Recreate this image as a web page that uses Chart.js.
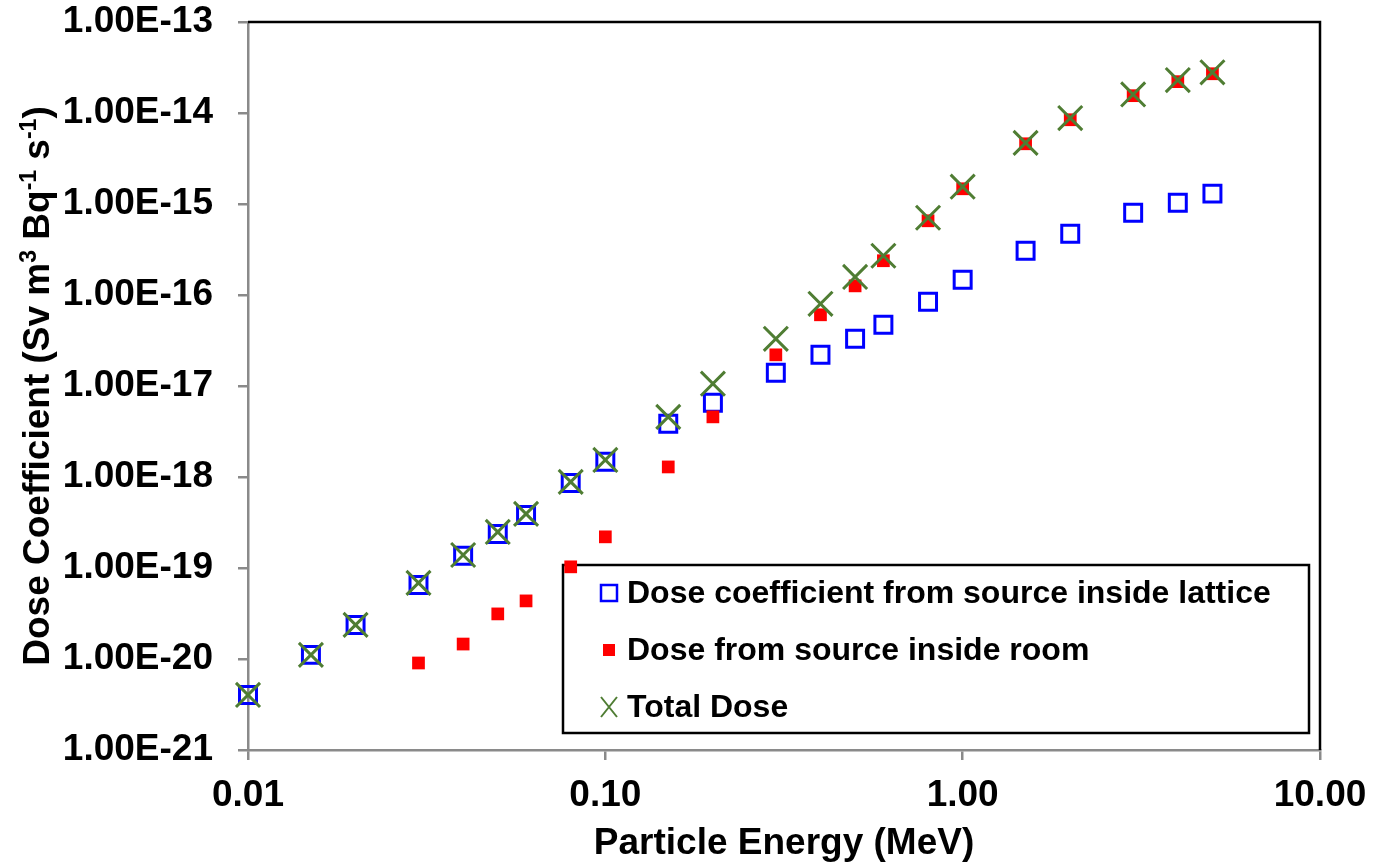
<!DOCTYPE html>
<html lang="en">
  <head>
    <meta charset="utf-8" />
    <title>Dose Coefficient vs Particle Energy</title>
    <style>
      * {
        margin: 0;
        padding: 0;
      }
      body {
        background: white;
      }
      .chartBox {
        width: 1373px;
        height: 866px;
      }
    </style>
  </head>
  <body>
    <div class="chartBox">
      <canvas id="myChart"></canvas>
    </div>

    <script src="https://cdn.jsdelivr.net/npm/chart.js@4/dist/chart.umd.min.js"></script>

    <script>
      // data block
      const energy = [0.01, 0.015, 0.02, 0.03, 0.04, 0.05, 0.06, 0.08, 0.1, 0.15, 0.2, 0.3, 0.4, 0.5, 0.6, 0.8, 1, 1.5, 2, 3, 4, 5];
      const doseLattice = [4.03e-21, 1.11e-20, 2.37e-20, 6.52e-20, 1.36e-19, 2.37e-19, 3.83e-19, 8.61e-19, 1.47e-18, 3.84e-18, 6.53e-18, 1.40e-17, 2.20e-17, 3.30e-17, 4.70e-17, 8.41e-17, 1.47e-16, 3.06e-16, 4.71e-16, 8.02e-16, 1.03e-15, 1.30e-15];
      const doseRoom = [null, null, null, 9.04e-21, 1.46e-20, 3.13e-20, 4.35e-20, 1.03e-19, 2.20e-19, 1.29e-18, 4.58e-18, 2.20e-17, 6.06e-17, 1.26e-16, 2.38e-16, 6.54e-16, 1.47e-15, 4.59e-15, 8.43e-15, 1.55e-14, 2.21e-14, 2.70e-14];
      const doseTotal = [4.03e-21, 1.11e-20, 2.37e-20, 6.86e-20, 1.39e-19, 2.49e-19, 3.93e-19, 8.84e-19, 1.54e-18, 4.58e-18, 1.06e-17, 3.30e-17, 8.00e-17, 1.58e-16, 2.70e-16, 7.06e-16, 1.55e-15, 4.70e-15, 8.80e-15, 1.60e-14, 2.30e-14, 2.80e-14];
      const seriesLabels = ["Dose coefficient from source inside lattice", "Dose from source inside room", "Total Dose"];
      const xTicks = [0.01, 0.1, 1, 10];
      const yTicks = [1e-21, 1e-20, 1e-19, 1e-18, 1e-17, 1e-16, 1e-15, 1e-14, 1e-13];

      const toPoints = (ys) =>
        energy.map((x, i) => ({ x: x, y: ys[i] })).filter((p) => p.y !== null);

      const FONT = "'Liberation Sans', Arial, sans-serif";
      const AXIS_GREY = "#8a8a8a";

      const data = {
        datasets: [
          {
            label: seriesLabels[2],
            data: toPoints(doseTotal),
            pointStyle: "crossRot",
            pointRadius: 17,
            borderWidth: 3,
            borderColor: "#4f7d33",
            backgroundColor: "#4f7d33",
            order: 0,
          },
          {
            label: seriesLabels[1],
            data: toPoints(doseRoom),
            pointStyle: "rect",
            pointRadius: 9,
            borderWidth: 0,
            backgroundColor: "#ff0000",
            borderColor: "#ff0000",
            order: 1,
          },
          {
            label: seriesLabels[0],
            data: toPoints(doseLattice),
            pointStyle: "rect",
            pointRadius: 12,
            borderWidth: 3,
            backgroundColor: "rgba(0,0,0,0)",
            borderColor: "#0000ff",
            order: 2,
          },
        ],
      };

      // kill the extra label padding so the plot box lands where we want it
      const noPad = (scale) => {
        scale.paddingTop = 0;
        scale.paddingBottom = 0;
        scale.paddingLeft = 0;
        scale.paddingRight = 0;
      };

      // frame + boxed legend inside the plot
      const framePlugin = {
        id: "frameLegend",
        beforeDatasetsDraw(chart) {
          const { ctx, chartArea: { top, right } } = chart;
          ctx.save();
          ctx.strokeStyle = "#000";
          ctx.lineWidth = 2.5;
          ctx.beginPath();
          ctx.moveTo(chart.chartArea.left, top);
          ctx.lineTo(right, top);
          ctx.lineTo(right, chart.chartArea.bottom);
          ctx.stroke();

          // legend box
          const bx = 563, by = 565, bw = 746, bh = 168;
          ctx.fillStyle = "#fff";
          ctx.fillRect(bx, by, bw, bh);
          ctx.strokeRect(bx, by, bw, bh);

          const rows = [
            { ds: 2, y: 593 },
            { ds: 1, y: 650 },
            { ds: 0, y: 707 },
          ];
          ctx.font = "bold 32px " + FONT;
          ctx.textBaseline = "middle";
          ctx.textAlign = "left";
          rows.forEach((r) => {
            const ds = chart.data.datasets[r.ds];
            const mx = 609;
            if (ds.pointStyle === "crossRot") {
              ctx.strokeStyle = ds.borderColor;
              ctx.lineWidth = 2;
              ctx.beginPath();
              ctx.moveTo(mx - 8, r.y - 10);
              ctx.lineTo(mx + 8, r.y + 10);
              ctx.moveTo(mx + 8, r.y - 10);
              ctx.lineTo(mx - 8, r.y + 10);
              ctx.stroke();
            } else if (ds.borderWidth > 0) {
              ctx.strokeStyle = ds.borderColor;
              ctx.lineWidth = 2.5;
              ctx.strokeRect(mx - 8, r.y - 8, 16, 16);
            } else {
              ctx.fillStyle = ds.backgroundColor;
              ctx.fillRect(mx - 6, r.y - 6, 12, 12);
            }
            ctx.fillStyle = "#000";
            ctx.fillText(ds.label, 627, r.y + 1);
          });
          ctx.restore();
        },
        afterDraw(chart) {
          // rotated y title with superscripts
          const { ctx, chartArea } = chart;
          const parts = [
            ["Dose Coefficient (Sv m", false],
            ["3", true],
            [" Bq", false],
            ["-1", true],
            [" s", false],
            ["-1", true],
            [")", false],
          ];
          const big = "bold 37px " + FONT;
          const small = "bold 23px " + FONT;
          ctx.save();
          let total = 0;
          parts.forEach((p) => {
            ctx.font = p[1] ? small : big;
            total += ctx.measureText(p[0]).width;
          });
          const cy = (chartArea.top + chartArea.bottom) / 2;
          ctx.translate(49, cy);
          ctx.rotate(-Math.PI / 2);
          ctx.fillStyle = "#000";
          ctx.textBaseline = "alphabetic";
          ctx.textAlign = "left";
          let x = -total / 2;
          parts.forEach((p) => {
            ctx.font = p[1] ? small : big;
            ctx.fillText(p[0], x, p[1] ? -13 : 0);
            x += ctx.measureText(p[0]).width;
          });
          ctx.restore();
        },
      };

      // config block
      const config = {
        type: "scatter",
        data: data,
        options: {
          responsive: true,
          maintainAspectRatio: false,
          animation: false,
          events: [],
          layout: { padding: { top: 22, right: 53, left: 0, bottom: 0 } },
          datasets: { scatter: { clip: false } },
          plugins: {
            legend: { display: false },
            tooltip: { enabled: false },
          },
          scales: {
            x: {
              type: "logarithmic",
              min: 0.01,
              max: 10,
              afterBuildTicks: (scale) => {
                scale.ticks = xTicks.map((v) => ({ value: v }));
              },
              afterFit: (scale) => {
                scale.height = 116;
                noPad(scale);
              },
              border: { display: true, color: AXIS_GREY, width: 2.5 },
              grid: {
                drawOnChartArea: false,
                drawTicks: true,
                tickLength: 10,
                color: AXIS_GREY,
                lineWidth: 2.5,
              },
              ticks: {
                autoSkip: false,
                maxRotation: 0,
                padding: 14,
                color: "#000",
                font: { family: FONT, size: 37, weight: "bold" },
                callback: (v) => Number(v).toFixed(2),
              },
              title: {
                display: true,
                text: "Particle Energy (MeV)",
                color: "#000",
                font: { family: FONT, size: 37, weight: "bold" },
                padding: { top: 0, bottom: 0 },
              },
            },
            y: {
              type: "logarithmic",
              min: 1e-21,
              max: 1e-13,
              afterBuildTicks: (scale) => {
                scale.ticks = yTicks.map((v) => ({ value: v }));
              },
              afterFit: (scale) => {
                scale.width = 248;
                noPad(scale);
              },
              border: { display: true, color: AXIS_GREY, width: 2.5 },
              grid: {
                drawOnChartArea: false,
                drawTicks: true,
                tickLength: 10,
                color: AXIS_GREY,
                lineWidth: 2.5,
              },
              ticks: {
                autoSkip: false,
                padding: 25,
                color: "#000",
                font: { family: FONT, size: 37, weight: "bold" },
                callback: (v) => Number(v).toExponential(2).toUpperCase(),
              },
            },
          },
        },
        plugins: [framePlugin],
      };

      // init render block
      const myChart = new Chart(document.getElementById("myChart"), config);
    </script>
  </body>
</html>
